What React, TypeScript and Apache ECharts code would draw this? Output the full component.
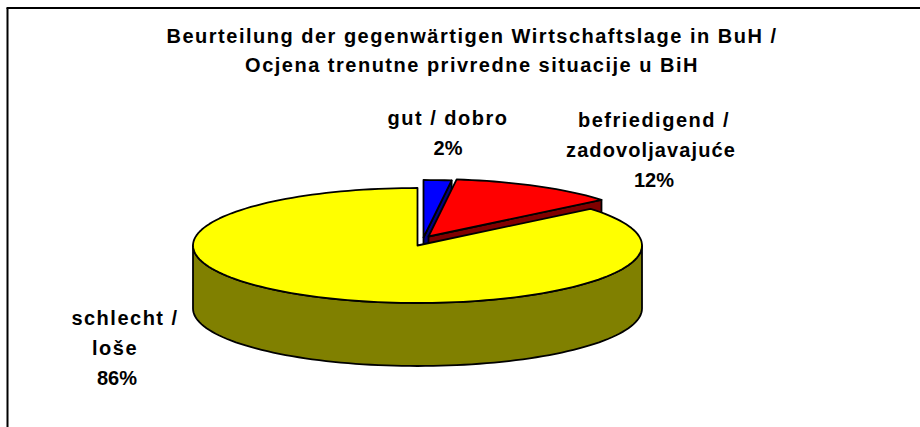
import React, { useEffect, useRef } from "react";
import * as echarts from "echarts";

const titleLines = ["Beurteilung der gegenwärtigen Wirtschaftslage in BuH /", "Ocjena trenutne privredne situacije u BiH"];
const categories = ["gut / dobro", "befriedigend / zadovoljavajuće", "schlecht / loše"];
const percentages = [2, 12, 86];
const labelLines = [["gut / dobro", "2%"], ["befriedigend /", "zadovoljavajuće", "12%"], ["schlecht /", "loše", "86%"]];
const topColors = ["#0000ff", "#ff0000", "#ffff00"];
const wallColors = ["#000080", "#800000", "#808000"];

const FONT = '"Liberation Sans", Arial, sans-serif';
const CX = 417.5, CY = 245.5, RX = 224.5, RY = 57.5, DEPTH = 63;
const explode = [[6, -8], [11, -9], [0, 0]];
const labelAnchors = [
  [[448, 118], [448, 148]],
  [[654, 120], [651, 150], [654, 180]],
  [[125, 318], [115, 348], [117, 378]],
];
const total = percentages.reduce((a, b) => a + b, 0);

function renderSlice(params: any, api: any) {
  const i = params.dataIndex;
  const before = percentages.slice(0, i).reduce((a, b) => a + b, 0);
  const start = (before / total) * 360;
  const end = ((before + api.value(0)) / total) * 360;
  const [dx, dy] = explode[i];
  const pt = (deg: number, drop = 0): number[] => {
    const r = (deg * Math.PI) / 180;
    return [CX + dx + RX * Math.sin(r), CY + dy - RY * Math.cos(r) + drop];
  };
  const apex = [CX + dx, CY + dy];
  const arc = (a: number, b: number, drop = 0) => {
    const n = Math.max(2, Math.ceil(Math.abs(b - a) / 2));
    return Array.from({ length: n + 1 }, (_, k) => pt(a + ((b - a) * k) / n, drop));
  };
  const wallStyle = { fill: wallColors[i], stroke: "#000", lineWidth: 1.8, lineJoin: "round" };
  const children: any[] = [];
  if (end <= 180) {
    children.push({ type: "polygon", shape: { points: [apex, pt(end), pt(end, DEPTH), [apex[0], apex[1] + DEPTH]] }, style: wallStyle });
  }
  if (start >= 180) {
    children.push({ type: "polygon", shape: { points: [apex, pt(start), pt(start, DEPTH), [apex[0], apex[1] + DEPTH]] }, style: wallStyle });
  }
  const wa = Math.max(start, 90), wb = Math.min(end, 270);
  if (wb > wa) {
    children.push({ type: "polygon", shape: { points: [...arc(wa, wb), ...arc(wb, wa, DEPTH)] }, style: wallStyle });
  }
  children.push({
    type: "polygon",
    shape: { points: [apex, ...arc(start, end)] },
    style: { fill: topColors[i], stroke: "#000", lineWidth: 1.8, lineJoin: "round" },
  });
  return { type: "group", children };
}

export default function App() {
  const ref = useRef<HTMLDivElement>(null);
  useEffect(() => {
    const chart = echarts.init(ref.current!, null, { renderer: "svg" });
    const labels = labelLines.flatMap((lines, i) =>
      lines.map((line, j) => ({
        type: "text",
        x: labelAnchors[i][j][0],
        y: labelAnchors[i][j][1],
        style: { text: line, fill: "#000", font: `bold 20px ${FONT}`, textAlign: "center", textVerticalAlign: "middle" },
      }))
    );
    const titles = titleLines.map((t, i) => ({
      type: "text",
      x: 472,
      y: 36 + i * 29,
      style: { text: t, fill: "#000", font: `bold 20px ${FONT}`, textAlign: "center", textVerticalAlign: "middle" },
    }));
    chart.setOption({
      animation: false,
      backgroundColor: "#fff",
      graphic: [
        { type: "line", shape: { x1: 7.5, y1: 8, x2: 7.5, y2: 427 }, style: { stroke: "#000", lineWidth: 2 } },
        { type: "line", shape: { x1: 6.5, y1: 8, x2: 920, y2: 8 }, style: { stroke: "#000", lineWidth: 2 } },
        ...titles,
        ...labels,
      ],
      series: [
        {
          type: "custom",
          coordinateSystem: "none",
          renderItem: renderSlice,
          data: percentages.map((value, i) => ({ name: categories[i], value: [value] })),
          silent: true,
        },
      ],
    });
    ref.current!.querySelectorAll("text").forEach((t) => {
      const s = t.textContent || "";
      if (s.includes("%")) return;
      t.style.letterSpacing = s.startsWith("zadov") ? "1.1px" : "1.5px";
    });
    return () => chart.dispose();
  }, []);
  return <div ref={ref} style={{ position: "fixed", left: 0, top: 0, width: 920, height: 427 }} />;
}
